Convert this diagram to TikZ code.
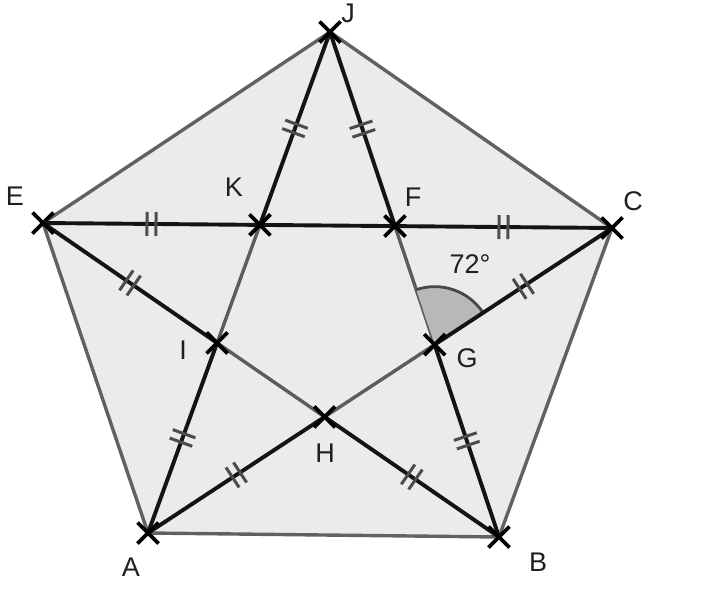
\documentclass[tikz,border=0pt]{standalone}
\usepackage{fontspec}
\setmainfont{Liberation Sans}
\usetikzlibrary{calc,angles}
\newcommand\dtick[2]{%
  \coordinate (tA) at ($(#1)!0.5!(#2)!-4.5pt!(#2)$);
  \coordinate (tB) at ($(#1)!0.5!(#2)!4.5pt!(#2)$);
  \draw[tickst] ($(tA)!12pt!90:(#2)$) -- ($(tA)!12pt!-90:(#2)$);
  \draw[tickst] ($(tB)!12pt!90:(#2)$) -- ($(tB)!12pt!-90:(#2)$);}
\newcommand\xmk[1]{\draw[xmark] ($(#1)+(-10.5,-10.5)$) -- ($(#1)+(10.5,10.5)$) ($(#1)+(-10.5,10.5)$) -- ($(#1)+(10.5,-10.5)$);}
\begin{document}
\begin{tikzpicture}[x=1pt,y=-1pt,
  dark/.style={draw=black!92, line width=3.9pt},
  grayline/.style={draw=black!62, line width=3.4pt, line join=round},
  inner/.style={draw=black!64, line width=3.4pt},
  tickst/.style={draw=black!70, line width=3pt},
  lbl/.style={font=\fontsize{27}{32}\selectfont, text=black!88, inner sep=0pt},
  xmark/.style={draw=black, line width=3.8pt}]
\useasboundingbox (0,0) rectangle (720,592);
\coordinate (J) at (330,32);
\coordinate (E) at (43,223);
\coordinate (C) at (612,228);
\coordinate (A) at (148,533);
\coordinate (B) at (499,537);
\coordinate (K) at (intersection of J--A and E--C);
\coordinate (F) at (intersection of J--B and E--C);
\coordinate (I) at (intersection of J--A and E--B);
\coordinate (G) at (intersection of J--B and C--A);
\coordinate (H) at (intersection of E--B and C--A);
% pentagon
\fill[black!8] (J)--(C)--(B)--(A)--(E)--cycle;
\draw[grayline] (J)--(C)--(B)--(A)--(E)--cycle;
% inner pentagon (grey parts)
\draw[inner] (K)--(I)--(H)--(G)--(F);
% angle
\pic[draw=black!72, fill=black!28, line width=2.8pt, angle radius=58pt] {angle = C--G--F};
% dark segments
\draw[dark] (J)--(K) (J)--(F) (E)--(C) (E)--(I) (C)--(G) (A)--(I) (A)--(H) (B)--(H) (B)--(G);
% ticks
\dtick{J}{K}\dtick{J}{F}\dtick{E}{K}\dtick{F}{C}\dtick{E}{I}
\dtick{C}{G}\dtick{A}{I}\dtick{A}{H}\dtick{B}{H}\dtick{B}{G}
% crosses
\xmk{J}\xmk{E}\xmk{C}\xmk{A}\xmk{B}\xmk{K}\xmk{F}\xmk{I}\xmk{G}\xmk{H}
% labels
\node[lbl] (lJ) at (348,13) {J};
\node[lbl] (lE) at (15,196) {E};
\node[lbl] (lK) at (234,187) {K};
\node[lbl] (lF) at (413,197) {F};
\node[lbl] (lC) at (633,201) {C};
\node[lbl] (l72) at (470,264) {72°};
\node[lbl] (lI) at (183,350) {I};
\node[lbl] (lG) at (467,358) {G};
\node[lbl] (lH) at (325,453) {H};
\node[lbl] (lA) at (131,567) {A};
\node[lbl] (lB) at (538,562) {B};
\end{tikzpicture}
\end{document}
